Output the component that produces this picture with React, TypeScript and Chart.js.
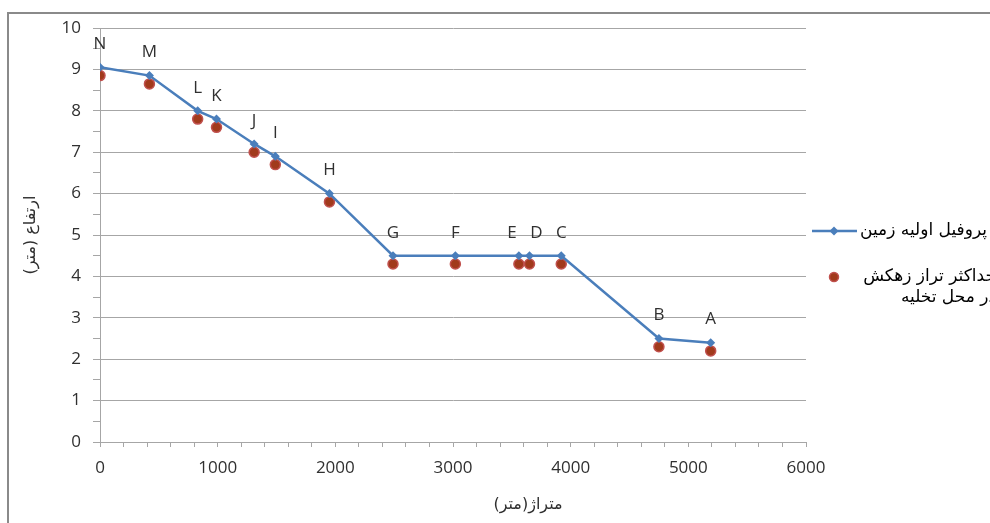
import { useEffect, useRef } from 'react';
import { Chart, registerables } from 'chart.js';

Chart.register(...registerables);

// ---- data ----
const pointNames = ['N', 'M', 'L', 'K', 'J', 'I', 'H', 'G', 'F', 'E', 'D', 'C', 'B', 'A'];
const distances = [0, 420, 830, 990, 1310, 1490, 1950, 2490, 3020, 3560, 3650, 3920, 4750, 5190];
const groundLevels = [9.05, 8.85, 8.0, 7.8, 7.2, 6.9, 6.0, 4.5, 4.5, 4.5, 4.5, 4.5, 2.5, 2.4];
const maxWaterLevels = [8.85, 8.65, 7.8, 7.6, 7.0, 6.7, 5.8, 4.3, 4.3, 4.3, 4.3, 4.3, 2.3, 2.2];
const series1Name = 'پروفیل اولیه زمین';
const series2NameLines = ['حداکثر تراز زهکش', 'در محل تخلیه'];
const xTitle = 'متراژ(متر)';
const yTitle = 'ارتفاع (متر)';
const xRange = [0, 6000];
const xMajorStep = 1000;
const xMinorStep = 200;
const yRange = [0, 10];
const yMajorStep = 1;
const yMinorStep = 0.5;

const BLUE = '#4A7EBB';
const RED_FILL = '#A13A1C';
const RED_BORDER = '#C0504D';
const GRID = '#A6A6A6';
const TEXT = '#303030';
const NUM_FONT = '"Open Sans", "DejaVu Sans", sans-serif';
const AR_FONT = '"DejaVu Sans", "Noto Sans", sans-serif';

const decorPlugin = {
  id: 'decor',
  beforeDraw(chart: any) {
    const ctx = chart.ctx;
    ctx.save();
    ctx.fillStyle = '#ffffff';
    ctx.fillRect(0, 0, chart.width, chart.height);
    ctx.strokeStyle = '#8a8a8a';
    ctx.lineWidth = 2;
    ctx.beginPath();
    ctx.moveTo(8, chart.height + 2);
    ctx.lineTo(8, 13);
    ctx.lineTo(chart.width + 2, 13);
    ctx.stroke();
    ctx.restore();
  },
  afterDraw(chart: any) {
    const ctx = chart.ctx;
    const area = chart.chartArea;
    ctx.save();
    // point letter labels
    const meta = chart.getDatasetMeta(0);
    const xs = meta.data.map((p: any) => p.x);
    const shifts = xs.map(() => 0);
    for (let i = 0; i + 1 < xs.length; i++) {
      if (xs[i + 1] - xs[i] < 14) {
        shifts[i] -= 7;
        shifts[i + 1] += 7;
      }
    }
    ctx.fillStyle = TEXT;
    ctx.font = `17px ${NUM_FONT}`;
    ctx.textAlign = 'center';
    ctx.textBaseline = 'middle';
    meta.data.forEach((p: any, i: number) => {
      ctx.fillText(pointNames[i], p.x + shifts[i], p.y - 23);
    });

    // axis titles
    ctx.direction = 'rtl';
    ctx.font = `16px ${AR_FONT}`;
    ctx.fillStyle = TEXT;
    ctx.textAlign = 'center';
    ctx.fillText(xTitle, 528, 505);
    ctx.save();
    ctx.translate(31, (area.top + area.bottom) / 2);
    ctx.rotate(-Math.PI / 2);
    ctx.fillText(yTitle, 0, 0);
    ctx.restore();

    // legend
    const lx = 812;
    const y1 = 231;
    ctx.strokeStyle = BLUE;
    ctx.lineWidth = 2.5;
    ctx.beginPath();
    ctx.moveTo(lx, y1);
    ctx.lineTo(lx + 45, y1);
    ctx.stroke();
    ctx.fillStyle = BLUE;
    ctx.beginPath();
    ctx.moveTo(834, y1 - 4.5);
    ctx.lineTo(838.5, y1);
    ctx.lineTo(834, y1 + 4.5);
    ctx.lineTo(829.5, y1);
    ctx.closePath();
    ctx.fill();

    ctx.font = `17px ${AR_FONT}`;
    ctx.fillStyle = '#000000';
    ctx.textAlign = 'left';
    ctx.fillText(series1Name, 860, y1);

    const y2 = 277;
    ctx.fillStyle = RED_FILL;
    ctx.strokeStyle = RED_BORDER;
    ctx.lineWidth = 1.5;
    ctx.beginPath();
    ctx.arc(834, y2, 4.5, 0, Math.PI * 2);
    ctx.fill();
    ctx.stroke();

    ctx.fillStyle = '#000000';
    const right = 996;
    ctx.textAlign = 'right';
    ctx.fillText(series2NameLines[0], right, y2);
    ctx.fillText(series2NameLines[1], right, y2 + 21);
    ctx.restore();
  },
};

export default function App() {
  const canvasRef = useRef<HTMLCanvasElement | null>(null);

  useEffect(() => {
    document.documentElement.style.overflow = 'hidden';
    const canvas = canvasRef.current;
    if (!canvas) return;
    const chart = new Chart(canvas, {
      type: 'scatter',
      data: {
        datasets: [
          {
            label: series1Name,
            data: distances.map((d, i) => ({ x: d, y: groundLevels[i] })),
            showLine: true,
            borderColor: BLUE,
            backgroundColor: BLUE,
            borderWidth: 2.5,
            pointStyle: 'rectRot',
            pointRadius: 4.5,
            pointBorderWidth: 0,
            pointBackgroundColor: BLUE,
            order: 1,
          },
          {
            label: series2NameLines.join(' '),
            data: distances.map((d, i) => ({ x: d, y: maxWaterLevels[i] })),
            showLine: false,
            pointStyle: 'circle',
            pointRadius: 5,
            pointBackgroundColor: RED_FILL,
            pointBorderColor: RED_BORDER,
            pointBorderWidth: 1.5,
            order: 2,
          },
        ],
      },
      options: {
        responsive: false,
        animation: false,
        events: [],
        layout: { padding: { left: 0, top: 28, right: 184, bottom: 0 } },
        plugins: {
          legend: { display: false },
          tooltip: { enabled: false },
          title: { display: false },
        },
        scales: {
          x: {
            type: 'linear',
            min: xRange[0],
            max: xRange[1],
            afterFit: (s: any) => {
              s.height = 81;
            },
            ticks: {
              stepSize: xMinorStep,
              autoSkip: false,
              maxRotation: 0,
              padding: 11,
              color: TEXT,
              font: { family: NUM_FONT, size: 17 },
              callback: (v: any) => (Math.round(v) % xMajorStep === 0 ? String(v) : ''),
            },
            grid: {
              drawOnChartArea: false,
              tickLength: 5,
              tickColor: GRID,
              lineWidth: 1,
            },
            border: { color: GRID, width: 1 },
          },
          y: {
            type: 'linear',
            min: yRange[0],
            max: yRange[1],
            afterFit: (s: any) => {
              s.width = 100;
            },
            ticks: {
              stepSize: yMinorStep,
              autoSkip: false,
              padding: 12,
              color: TEXT,
              font: { family: NUM_FONT, size: 17 },
              callback: (v: any) => (Math.abs(v % yMajorStep) < 1e-9 ? String(v) : ''),
            },
            grid: {
              tickLength: 7,
              tickColor: GRID,
              color: (c: any) =>
                c.tick && Math.abs(c.tick.value % yMajorStep) < 1e-9 ? GRID : 'rgba(0,0,0,0)',
              lineWidth: 1,
            },
            border: { color: GRID, width: 1 },
          },
        },
      },
      plugins: [decorPlugin],
    });
    return () => chart.destroy();
  }, []);

  return (
    <div style={{ position: 'fixed', left: 0, top: 0, width: 990, height: 523, overflow: 'hidden' }}>
      <canvas ref={canvasRef} width={990} height={523} style={{ width: 990, height: 523, display: 'block' }} />
    </div>
  );
}
